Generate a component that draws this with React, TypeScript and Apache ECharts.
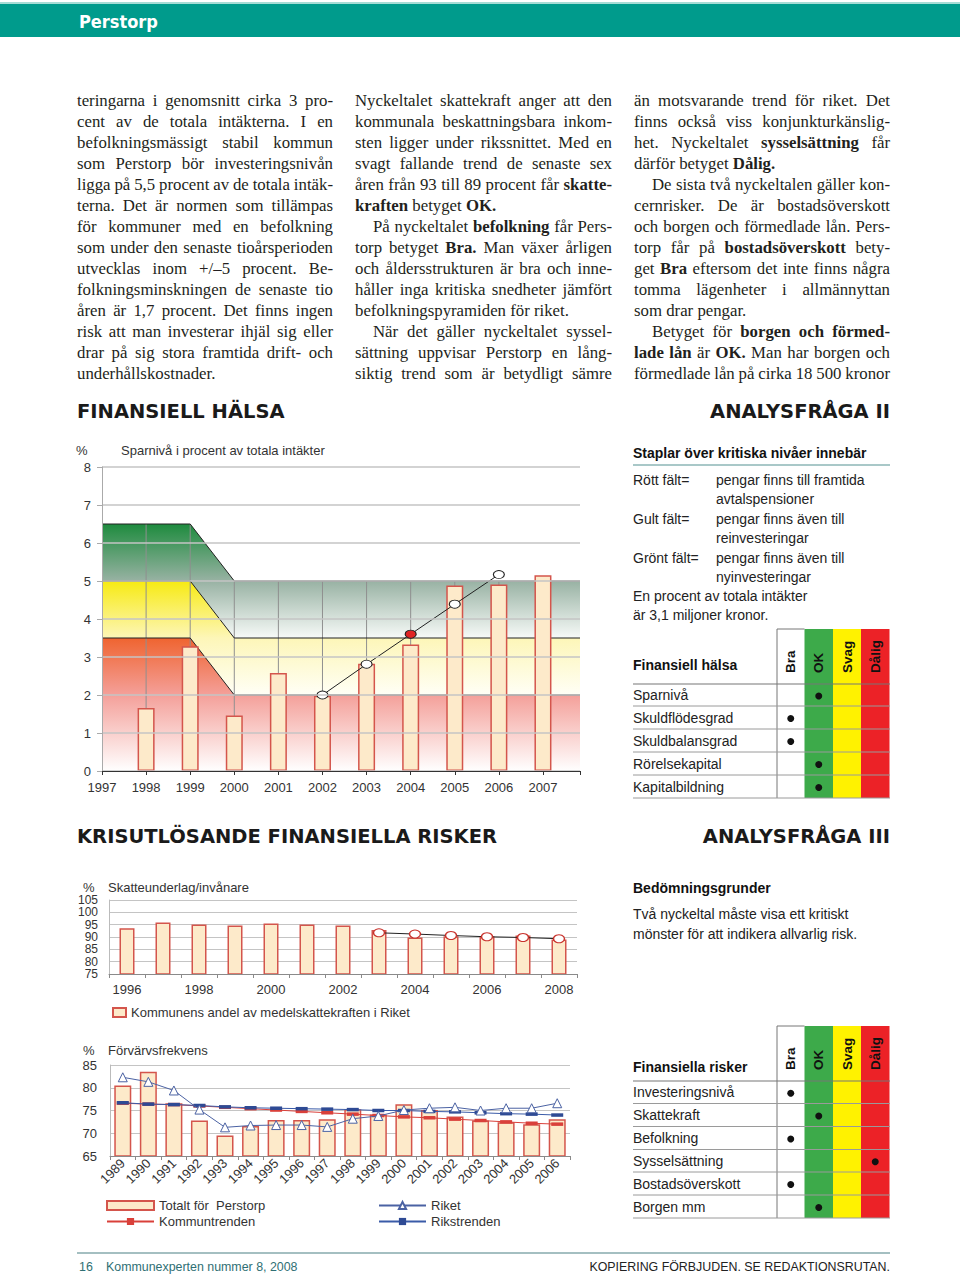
import React, { useEffect, useRef } from 'react';
import * as echarts from 'echarts';

// ---------- Body text (justified columns) ----------
// "> " = indented first line, " <" = last line of paragraph (not justified), **bold**
const col1Lines = [
  'teringarna i genomsnitt cirka 3 pro-',
  'cent av de totala intäkterna. I en',
  'befolkningsmässigt stabil kommun',
  'som Perstorp bör investeringsnivån',
  'ligga på 5,5 procent av de totala intäk-',
  'terna. Det är normen som tillämpas',
  'för kommuner med en befolkning',
  'som under den senaste tioårsperioden',
  'utvecklas inom +/–5 procent. Be-',
  'folkningsminskningen de senaste tio',
  'åren är 1,7 procent. Det finns ingen',
  'risk att man investerar ihjäl sig eller',
  'drar på sig stora framtida drift- och',
  'underhållskostnader. <',
];
const col2Lines = [
  'Nyckeltalet skattekraft anger att den',
  'kommunala beskattningsbara inkom-',
  'sten ligger under rikssnittet. Med en',
  'svagt fallande trend de senaste sex',
  'åren från 93 till 89 procent får **skatte-**',
  '**kraften** betyget **OK.** <',
  '> På nyckeltalet **befolkning** får Pers-',
  'torp betyget **Bra.** Man växer årligen',
  'och åldersstrukturen är bra och inne-',
  'håller inga kritiska snedheter jämfört',
  'befolkningspyramiden för riket. <',
  '> När det gäller nyckeltalet syssel-',
  'sättning uppvisar Perstorp en lång-',
  'siktig trend som är betydligt sämre',
];
const col3Lines = [
  'än motsvarande trend för riket. Det',
  'finns också viss konjunkturkänslig-',
  'het. Nyckeltalet **sysselsättning** får',
  'därför betyget **Dålig.** <',
  '> De sista två nyckeltalen gäller kon-',
  'cernrisker. De är bostadsöverskott',
  'och borgen och förmedlade lån. Pers-',
  'torp får på **bostadsöverskott** bety-',
  'get **Bra** eftersom det inte finns några',
  'tomma lägenheter i allmännyttan',
  'som drar pengar. <',
  '> Betyget för **borgen och förmed-**',
  '**lade lån** är **OK.** Man har borgen och',
  'förmedlade lån på cirka 18 500 kronor',
];

// ---------- Chart 1: Sparnivå ----------
const sparYears = [1998, 1999, 2000, 2001, 2002, 2003, 2004, 2005, 2006, 2007];
const sparValues = [1.66, 3.28, 1.46, 2.58, 1.98, 2.82, 3.33, 4.88, 4.91, 5.15];
const sparTrendYears = [2002, 2003, 2004, 2005, 2006];
const sparTrendValues = [2.0, 2.81, 3.6, 4.39, 5.17];
const zoneYears = [1997, 1999, 2000, 2007.84];
const zoneRedTop = [3.5, 3.5, 2, 2];
const zoneYellowTop = [5, 5, 3.5, 3.5];
const zoneGreenTop = [6.5, 6.5, 5, 5];

// ---------- Chart 2: Skatteunderlag ----------
const skattYears = ['1996', '1997', '1998', '1999', '2000', '2001', '2002', '2003', '2004', '2005', '2006', '2007', '2008'];
const skattValues = [93.5, 95.9, 95.1, 94.7, 95.5, 95.1, 94.7, 92.8, 89.8, 90.3, 90.3, 90.6, 89.0];
const skattTrend = [null, null, null, null, null, null, null, 91.7, 91.2, 90.6, 90.1, 89.8, 89.3];

// ---------- Chart 3: Förvärvsfrekvens ----------
const forvYears = ['1989', '1990', '1991', '1992', '1993', '1994', '1995', '1996', '1997', '1998', '1999', '2000', '2001', '2002', '2003', '2004', '2005', '2006'];
const forvTotal = [80.5, 83.5, 76.6, 72.8, 69.5, 71.6, 72.9, 72.9, 73.1, 75.3, 74.1, 76.4, 75.1, 73.7, 72.8, 72.4, 72.0, 73.1];
const forvRiket = [82.3, 81.3, 79.4, 75.2, 71.3, 71.7, 71.8, 71.8, 71.4, 73.2, 73.8, 75.1, 75.5, 75.7, 75.0, 75.5, 75.5, 76.6];
const forvRikstrend = [76.7, 76.4, 76.3, 76.1, 75.8, 75.6, 75.5, 75.4, 75.3, 75.2, 75.0, 75.0, 74.8, 74.7, 74.5, 74.3, 74.2, 74.0];
const forvKommuntrend = [76.6, 76.4, 76.3, 76.0, 75.7, 75.4, 75.1, 74.8, 74.5, 74.2, 73.9, 73.6, 73.4, 73.1, 72.8, 72.5, 72.2, 72.0];

// ---------- Tables ----------
const gradeLabels = ['Bra', 'OK', 'Svag', 'Dålig'];
const halsaRows = ['Sparnivå', 'Skuldflödesgrad', 'Skuldbalansgrad', 'Rörelsekapital', 'Kapitalbildning'];
const halsaGrades = [1, 0, 0, 1, 1];
const riskRows = ['Investeringsnivå', 'Skattekraft', 'Befolkning', 'Sysselsättning', 'Bostadsöverskott', 'Borgen mm'];
const riskGrades = [0, 1, 0, 3, 0, 1];

const staplarLines = [
  ['Rött fält=', 'pengar finns till framtida'],
  ['', 'avtalspensioner'],
  ['Gult fält=', 'pengar finns även till'],
  ['', 'reinvesteringar'],
  ['Grönt fält=', 'pengar finns även till'],
  ['', 'nyinvesteringar'],
];

const SERIF = '"Liberation Serif", "DejaVu Serif", serif';
const SANS = '"Liberation Sans", Arial, sans-serif';
const TXT = '#231f20';

function txt(text: string, x: number, y: number, font: string, fill = TXT, align = 'left', extra: any = {}) {
  return {
    type: 'text',
    x,
    y,
    silent: true,
    ...extra,
    style: {
      text,
      font,
      fill,
      align,
      textAlign: align,
      verticalAlign: 'middle',
      textVerticalAlign: 'middle',
    },
  };
}

function parseWords(line: string) {
  const out: { word: string; bold: boolean }[] = [];
  line.split('**').forEach((p, i) => {
    p.split(' ').forEach((w) => {
      if (w) out.push({ word: w, bold: i % 2 === 1 });
    });
  });
  return out;
}

function layoutColumn(lines: string[], x: number, width: number, y0: number, lh: number, measure: any) {
  const els: any[] = [];
  lines.forEach((raw, i) => {
    let line = raw;
    let indent = 0;
    let justify = true;
    if (line.startsWith('> ')) {
      indent = 18;
      line = line.slice(2);
    }
    if (line.endsWith(' <')) {
      justify = false;
      line = line.slice(0, -2);
    }
    const words = parseWords(line);
    let size = 16.8;
    const fontOf = (b: boolean, s: number) => `${b ? 'bold ' : ''}${s.toFixed(2)}px ${SERIF}`;
    let widths = words.map((w) => measure(w.word, fontOf(w.bold, size)));
    let sum = widths.reduce((a: number, b: number) => a + b, 0);
    const avail = width - indent;
    let gap = measure(' ', fontOf(false, size));
    if (justify && words.length > 1) {
      gap = (avail - sum) / (words.length - 1);
      if (gap < 2.8) {
        size = (size * (avail - 2.8 * (words.length - 1))) / sum;
        widths = words.map((w) => measure(w.word, fontOf(w.bold, size)));
        sum = widths.reduce((a: number, b: number) => a + b, 0);
        gap = (avail - sum) / (words.length - 1);
      }
    }
    let cx = x + indent;
    words.forEach((w, j) => {
      els.push(txt(w.word, cx, y0 + i * lh, fontOf(w.bold, size), TXT));
      cx += widths[j] + gap;
    });
  });
  return els;
}

function buildTable(top: number, headBottom: number, rowLines: number[], title: string, titleY: number, rows: string[], grades: number[], headTextY: number) {
  const cols = [777, 804.5, 833, 861, 889.5];
  const colors = ['#ffffff', '#3DAA4A', '#FFF200', '#EC2227'];
  const bottom = rowLines[rowLines.length - 1];
  const els: any[] = [];
  for (let i = 0; i < 4; i++) {
    els.push({ type: 'rect', silent: true, shape: { x: cols[i], y: top, width: cols[i + 1] - cols[i], height: bottom - top }, style: { fill: colors[i] } });
  }
  els.push({ type: 'line', silent: true, shape: { x1: cols[0], y1: top, x2: cols[0], y2: bottom }, style: { stroke: '#777', lineWidth: 1 } });
  els.push({ type: 'line', silent: true, shape: { x1: cols[0], y1: top, x2: cols[1], y2: top }, style: { stroke: '#777', lineWidth: 1 } });
  gradeLabels.forEach((g, i) => {
    els.push(txt(g, (cols[i] + cols[i + 1]) / 2, headTextY, `bold 13.5px ${SANS}`, '#111', 'left', { rotation: Math.PI / 2 }));
  });
  els.push(txt(title, 633, titleY, `bold 14px ${SANS}`, '#111'));
  els.push({ type: 'line', silent: true, shape: { x1: 633, y1: headBottom, x2: 890, y2: headBottom }, style: { stroke: '#777', lineWidth: 1.2 } });
  let prev = headBottom;
  rows.forEach((r, i) => {
    const yl = rowLines[i];
    const yc = (prev + yl) / 2;
    els.push({ type: 'line', silent: true, shape: { x1: 633, y1: yl, x2: 890, y2: yl }, style: { stroke: '#9a9a9a', lineWidth: 1 } });
    els.push(txt(r, 633, yc, `14px ${SANS}`, '#222'));
    const g = grades[i];
    els.push({ type: 'circle', silent: true, shape: { cx: (cols[g] + cols[g + 1]) / 2, cy: yc + 1, r: 3.5 }, style: { fill: '#111' } });
    prev = yl;
  });
  return els;
}

function bandTopAt(x: number) {
  for (let i = 0; i < zoneYears.length - 1; i++) {
    if (x >= zoneYears[i] && x <= zoneYears[i + 1]) {
      const t = (x - zoneYears[i]) / (zoneYears[i + 1] - zoneYears[i]);
      return zoneGreenTop[i] + t * (zoneGreenTop[i + 1] - zoneGreenTop[i]);
    }
  }
  return zoneGreenTop[zoneGreenTop.length - 1];
}

function grad(stops: [number, string][]) {
  return new echarts.graphic.LinearGradient(0, 0, 0, 1, stops.map(([offset, color]) => ({ offset, color })));
}

function buildOption() {
  const canvas = document.createElement('canvas');
  const ctx = canvas.getContext('2d')!;
  const measure = (t: string, font: string) => {
    ctx.font = font;
    return ctx.measureText(t).width;
  };

  const graphics: any[] = [];
  // header band
  graphics.push({ type: 'rect', silent: true, shape: { x: 0, y: 2, width: 960, height: 2 }, style: { fill: '#A6DDD6' } });
  graphics.push({ type: 'rect', silent: true, shape: { x: 0, y: 4, width: 960, height: 33 }, style: { fill: '#009B8C' } });
  graphics.push(txt('Perstorp', 79, 21, `bold 18px "DejaVu Sans Condensed", "DejaVu Sans", sans-serif`, '#ffffff'));

  // body text
  graphics.push(...layoutColumn(col1Lines, 77, 256, 100, 21, measure));
  graphics.push(...layoutColumn(col2Lines, 355, 257, 100, 21, measure));
  graphics.push(...layoutColumn(col3Lines, 634, 256, 100, 21, measure));

  // section headings
  const headFont = `bold 19.5px "DejaVu Sans", sans-serif`;
  graphics.push(txt('FINANSIELL HÄLSA', 77, 411, headFont, '#1a1a1a'));
  graphics.push(txt('ANALYSFRÅGA II', 890, 411, headFont, '#1a1a1a', 'right'));
  graphics.push(txt('KRISUTLÖSANDE FINANSIELLA RISKER', 77, 836, headFont, '#1a1a1a'));
  graphics.push(txt('ANALYSFRÅGA III', 890, 836, headFont, '#1a1a1a', 'right'));

  // chart titles
  const tFont = `13px ${SANS}`;
  graphics.push(txt('%', 76, 450, tFont, '#333'));
  graphics.push(txt('Sparnivå i procent av totala intäkter', 121, 450, tFont, '#333'));
  graphics.push(txt('%', 83, 887, tFont, '#333'));
  graphics.push(txt('Skatteunderlag/invånare', 108, 887, tFont, '#333'));
  graphics.push(txt('%', 83, 1050, tFont, '#333'));
  graphics.push(txt('Förvärvsfrekvens', 108, 1050, tFont, '#333'));

  // right panel: staplar
  graphics.push(txt('Staplar över kritiska nivåer innebär', 633, 453, `bold 14px ${SANS}`, '#111'));
  graphics.push({ type: 'line', silent: true, shape: { x1: 633, y1: 465, x2: 890, y2: 465 }, style: { stroke: '#A9C8C8', lineWidth: 2 } });
  staplarLines.forEach((l, i) => {
    const y = 480 + i * 19.4;
    if (l[0]) graphics.push(txt(l[0], 633, y, `14px ${SANS}`, '#222'));
    graphics.push(txt(l[1], 716, y, `14px ${SANS}`, '#222'));
  });
  graphics.push(txt('En procent av totala intäkter', 633, 596, `14px ${SANS}`, '#222'));
  graphics.push(txt('är 3,1 miljoner kronor.', 633, 615, `14px ${SANS}`, '#222'));

  graphics.push(...buildTable(629, 684, [706, 729, 752, 775, 798], 'Finansiell hälsa', 665, halsaRows, halsaGrades, 673));

  graphics.push(txt('Bedömningsgrunder', 633, 888, `bold 14px ${SANS}`, '#111'));
  graphics.push(txt('Två nyckeltal måste visa ett kritiskt', 633, 914, `14px ${SANS}`, '#222'));
  graphics.push(txt('mönster för att indikera allvarlig risk.', 633, 934, `14px ${SANS}`, '#222'));

  graphics.push(...buildTable(1026, 1081, [1103.5, 1126.5, 1149.5, 1172, 1195, 1218], 'Finansiella risker', 1067, riskRows, riskGrades, 1070));

  // footer
  graphics.push({ type: 'line', silent: true, shape: { x1: 77, y1: 1253, x2: 890, y2: 1253 }, style: { stroke: '#86AAAC', lineWidth: 1.5 } });
  graphics.push(txt('16', 79, 1267, `12.4px ${SANS}`, '#2F6F74'));
  graphics.push(txt('Kommunexperten nummer 8, 2008', 106, 1267, `12.4px ${SANS}`, '#2F6F74'));
  graphics.push(txt('KOPIERING FÖRBJUDEN. SE REDAKTIONSRUTAN.', 890, 1267, `12.4px ${SANS}`, '#222', 'right'));

  const barStyle = { color: '#FDEACA', borderColor: '#D4554C', borderWidth: 1.5 };
  const lbl = { fontSize: 13, color: '#333', fontFamily: SANS };

  const gradRed = grad([
    [0, '#EF6430'],
    [0.43, '#F4A09A'],
    [1, '#FFFFFF'],
  ]);
  const gradYellow = grad([
    [0, '#F7EA12'],
    [0.5, '#FDF6B8'],
    [1, '#FFFFF6'],
  ]);
  const gradGreen = grad([
    [0, '#1E8B3E'],
    [0.5, '#98B2A3'],
    [1, '#F7FAF8'],
  ]);

  const zoneRender = (params: any, api: any) => {
    const pts = (tops: number[]) => zoneYears.map((x, i) => api.coord([x, tops[i]]));
    const base = zoneYears.map((x) => api.coord([x, 0]));
    const red = pts(zoneRedTop);
    const yel = pts(zoneYellowTop);
    const grn = pts(zoneGreenTop);
    const poly = (top: number[][], bottom: number[][], fill: any) => ({
      type: 'polygon',
      shape: { points: [...top, ...bottom.slice().reverse()] },
      style: { fill },
      silent: true,
    });
    const edge = (top: number[][]) => ({
      type: 'polyline',
      shape: { points: top },
      style: { stroke: '#222', lineWidth: 1, fill: null },
      silent: true,
    });
    const vlines = sparYears.map((y) => {
      const p0 = api.coord([y, 0]);
      const p1 = api.coord([y, bandTopAt(y)]);
      return {
        type: 'line',
        shape: { x1: p0[0], y1: p0[1], x2: p1[0], y2: p1[1] },
        style: { stroke: '#8f8f8f', lineWidth: 1 },
        silent: true,
      };
    });
    return {
      type: 'group',
      children: [poly(grn, yel, gradGreen), poly(yel, red, gradYellow), poly(red, base, gradRed), ...vlines, edge(grn), edge(yel), edge(red)],
    };
  };

  return {
    animation: false,
    textStyle: { fontFamily: SANS },
    grid: [
      { left: 102, top: 467, width: 478, height: 304 },
      { left: 109, top: 900, width: 468, height: 74 },
      { left: 110, top: 1065, width: 460, height: 91 },
    ],
    xAxis: [
      {
        gridIndex: 0,
        type: 'value',
        min: 1997,
        max: zoneYears[zoneYears.length - 1],
        interval: 1,
        z: 5,
        axisLine: { show: true, lineStyle: { color: '#333', width: 1 } },
        axisTick: { show: true, length: 4, lineStyle: { color: '#333' } },
        axisLabel: { ...lbl, margin: 10, formatter: (v: number) => (Number.isInteger(v) ? String(v) : '') },
        splitLine: { show: false },
      },
      {
        gridIndex: 1,
        type: 'category',
        data: skattYears,
        z: 5,
        axisLine: { show: true, lineStyle: { color: '#8a8a8a' } },
        axisTick: { show: true, interval: 0, alignWithLabel: false, length: 4, lineStyle: { color: '#8a8a8a' } },
        axisLabel: { ...lbl, interval: 1, margin: 9 },
      },
      {
        gridIndex: 2,
        type: 'category',
        data: forvYears,
        z: 5,
        axisLine: { show: true, lineStyle: { color: '#8a8a8a' } },
        axisTick: { show: true, interval: 0, alignWithLabel: false, length: 4, lineStyle: { color: '#8a8a8a' } },
        axisLabel: { ...lbl, interval: 0, rotate: 45, margin: 5 },
      },
    ],
    yAxis: [
      {
        gridIndex: 0,
        type: 'value',
        min: 0,
        max: 8,
        interval: 1,
        z: 5,
        axisLine: { show: true, lineStyle: { color: '#aaa' } },
        axisTick: { show: true, length: 5, lineStyle: { color: '#aaa' } },
        axisLabel: { ...lbl, margin: 11 },
        splitLine: { show: true, lineStyle: { color: '#c4c4c4', width: 1.5 } },
      },
      {
        gridIndex: 1,
        type: 'value',
        min: 75,
        max: 105,
        interval: 5,
        axisLine: { show: true, lineStyle: { color: '#bbb' } },
        axisTick: { show: false },
        axisLabel: { ...lbl, fontSize: 12, lineHeight: 12, margin: 11, showMinLabel: true, showMaxLabel: true, hideOverlap: false },
        splitLine: { show: true, lineStyle: { color: '#c4c4c4', width: 1.2 } },
      },
      {
        gridIndex: 2,
        type: 'value',
        min: 65,
        max: 85,
        interval: 5,
        axisLine: { show: true, lineStyle: { color: '#bbb' } },
        axisTick: { show: false },
        axisLabel: { ...lbl, margin: 13 },
        splitLine: { show: true, lineStyle: { color: '#c4c4c4', width: 1.2 } },
      },
    ],
    legend: [
      {
        data: [{ name: 'Kommunens andel av medelskattekraften i Riket', icon: 'rect' }],
        left: 112,
        top: 1006,
        padding: 0,
        itemWidth: 13,
        itemHeight: 9,
        textStyle: { fontSize: 13, color: '#333' },
        selectedMode: false,
      },
      {
        data: [{ name: 'Totalt för  Perstorp', icon: 'rect' }, 'Kommuntrenden'],
        orient: 'vertical',
        left: 106,
        top: 1199,
        padding: 0,
        itemGap: 3,
        itemWidth: 47,
        itemHeight: 9,
        textStyle: { fontSize: 13, color: '#333' },
        selectedMode: false,
      },
      {
        data: ['Riket', 'Rikstrenden'],
        orient: 'vertical',
        left: 378,
        top: 1199,
        padding: 0,
        itemGap: 3,
        itemWidth: 47,
        itemHeight: 9,
        textStyle: { fontSize: 13, color: '#333' },
        selectedMode: false,
      },
    ],
    series: [
      {
        type: 'custom',
        name: 'Zoner',
        xAxisIndex: 0,
        yAxisIndex: 0,
        silent: true,
        z: 1,
        renderItem: zoneRender,
        data: [[zoneYears[0], 0]],
      },
      {
        type: 'bar',
        name: 'Sparnivå',
        xAxisIndex: 0,
        yAxisIndex: 0,
        z: 3,
        barWidth: 17,
        itemStyle: barStyle,
        data: sparYears.map((y, i) => [y, sparValues[i]]),
      },
      {
        type: 'line',
        name: 'Sparnivå trend',
        xAxisIndex: 0,
        yAxisIndex: 0,
        z: 4,
        symbol: 'circle',
        symbolSize: [11, 8],
        lineStyle: { color: '#222', width: 1 },
        itemStyle: { color: '#ffffff', borderColor: '#222', borderWidth: 1 },
        data: sparTrendYears.map((y, i) =>
          y === 2004
            ? { value: [y, sparTrendValues[i]], itemStyle: { color: '#E02424', borderColor: '#222' } }
            : [y, sparTrendValues[i]]
        ),
      },
      {
        type: 'bar',
        name: 'Kommunens andel av medelskattekraften i Riket',
        xAxisIndex: 1,
        yAxisIndex: 1,
        barWidth: 15,
        itemStyle: barStyle,
        data: skattValues,
      },
      {
        type: 'line',
        name: 'Skatt trend',
        xAxisIndex: 1,
        yAxisIndex: 1,
        z: 4,
        symbol: 'circle',
        symbolSize: [11, 8],
        lineStyle: { color: '#222', width: 1 },
        itemStyle: { color: '#ffffff', borderColor: '#C8312B', borderWidth: 1.2 },
        data: skattTrend.map((v) => (v === null ? '-' : v)),
      },
      {
        type: 'bar',
        name: 'Totalt för  Perstorp',
        xAxisIndex: 2,
        yAxisIndex: 2,
        barWidth: 17,
        itemStyle: barStyle,
        data: forvTotal,
      },
      {
        type: 'line',
        name: 'Kommuntrenden',
        xAxisIndex: 2,
        yAxisIndex: 2,
        z: 4,
        symbol: 'rect',
        symbolSize: [12, 3.5],
        lineStyle: { color: '#D9403A', width: 1 },
        itemStyle: { color: '#D9403A' },
        data: forvKommuntrend,
      },
      {
        type: 'line',
        name: 'Rikstrenden',
        xAxisIndex: 2,
        yAxisIndex: 2,
        z: 4,
        symbol: 'rect',
        symbolSize: [12, 3.5],
        lineStyle: { color: '#3A5BA8', width: 1 },
        itemStyle: { color: '#2E4A94' },
        data: forvRikstrend,
      },
      {
        type: 'line',
        name: 'Riket',
        xAxisIndex: 2,
        yAxisIndex: 2,
        z: 5,
        symbol: 'triangle',
        symbolSize: 9,
        lineStyle: { color: '#4B62A3', width: 1 },
        itemStyle: { color: '#ffffff', borderColor: '#4B62A3', borderWidth: 1 },
        data: forvRiket,
      },
    ],
    graphic: { elements: graphics },
  };
}

export default function App() {
  const ref = useRef<HTMLDivElement>(null);
  useEffect(() => {
    document.body.style.margin = '0';
    const chart = echarts.init(ref.current!, null, { renderer: 'svg', width: 960, height: 1277 });
    chart.setOption(buildOption() as any);
    return () => chart.dispose();
  }, []);
  return (
    <div
      ref={ref}
      style={{ position: 'absolute', left: 0, top: 0, width: 960, height: 1277, background: '#ffffff' }}
    />
  );
}
